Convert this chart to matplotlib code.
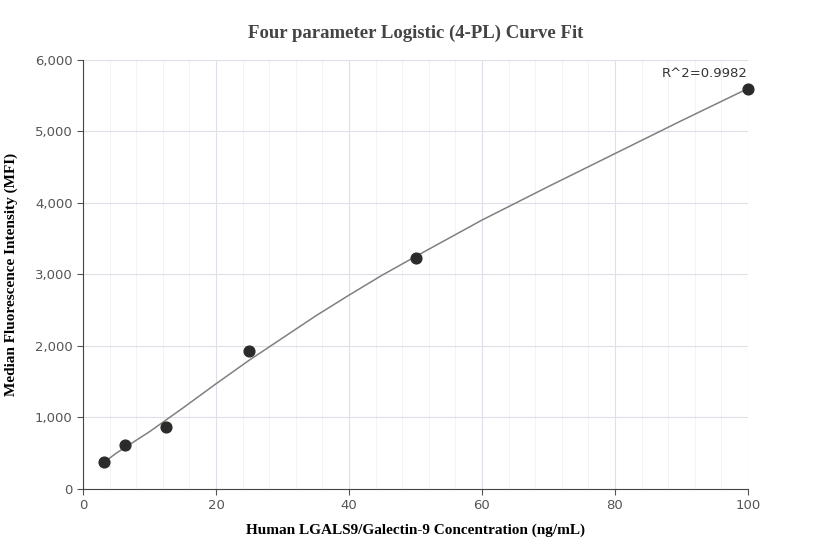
import matplotlib
matplotlib.use("Agg")
import matplotlib.pyplot as plt
from matplotlib.ticker import MultipleLocator, FuncFormatter

# measured points
conc = [3.125, 6.25, 12.5, 25, 50, 100]
mfi = [370, 610, 860, 1930, 3230, 5600]

# fitted curve
curve_x = [3, 5, 10, 15, 20, 25, 30, 35, 40, 45, 50, 60, 70, 80, 90, 100]
curve_y = [360, 500, 800, 1130, 1470, 1800, 2110, 2420, 2710, 2990, 3250, 3760, 4230, 4690, 5150, 5600]

fig = plt.figure(figsize=(8.32, 5.60), dpi=100)
ax = fig.add_axes([0.0998, 0.127, 0.7992, 0.766])

ax.plot(curve_x, curve_y, color="#808080", lw=1.1, zorder=2)
ax.scatter(conc, mfi, s=60, color="#2b2b2b", zorder=3, clip_on=False)
ax.text(100, 5720, "R^2=0.9982", ha="right", va="bottom", fontsize=9.5, color="#333333")

ax.set_xlim(0, 100)
ax.set_ylim(0, 6000)
ax.xaxis.set_major_locator(MultipleLocator(20))
ax.xaxis.set_minor_locator(MultipleLocator(4))
ax.yaxis.set_major_locator(MultipleLocator(1000))
ax.yaxis.set_major_formatter(FuncFormatter(lambda v, p: f"{int(v):,}"))
ax.grid(which="major", color="#dde0e8", lw=0.8)
ax.grid(which="minor", axis="x", color="#f0f1f5", lw=0.6)
ax.set_axisbelow(True)
for s in ["top", "right"]:
    ax.spines[s].set_visible(False)
for s in ["left", "bottom"]:
    ax.spines[s].set_color("#444444")
ax.tick_params(which="minor", length=0)
ax.tick_params(which="major", labelsize=9.5, colors="#555555", length=4)

serif = "Liberation Serif"
ax.set_title("Four parameter Logistic (4-PL) Curve Fit", fontfamily=serif,
             fontweight="bold", fontsize=13.5, color="#444444", pad=16)
ax.set_xlabel("Human LGALS9/Galectin-9 Concentration (ng/mL)", fontfamily=serif,
              fontweight="bold", fontsize=11, labelpad=8)
ax.set_ylabel("Median Fluorescence Intensity (MFI)", fontfamily=serif,
              fontweight="bold", fontsize=11, labelpad=12)

fig.savefig("out.png", dpi=100)
